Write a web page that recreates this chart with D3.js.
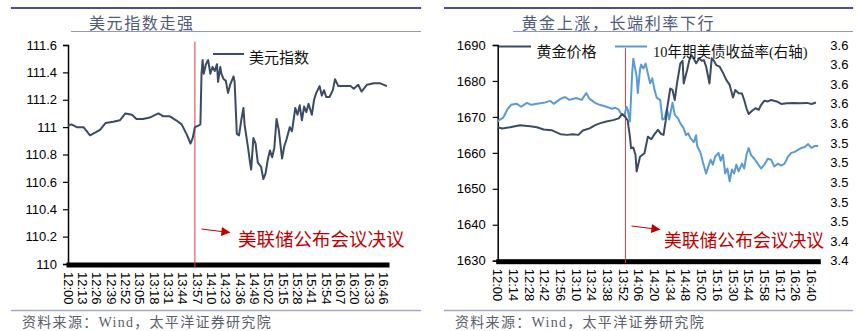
<!DOCTYPE html>
<html><head><meta charset="utf-8">
<script src="https://cdn.jsdelivr.net/npm/d3@7"></script>
<style>
html,body{margin:0;padding:0;background:#fff;}
svg{display:block;}
text{font-family:"Liberation Sans","Noto Sans CJK SC",sans-serif;}
</style></head><body>
<svg id="c" width="865" height="331"></svg>
<script>
// ---------- DATA ----------
const dxyTitle = "美元指数走强";
const goldTitle = "黄金上涨，长端利率下行";
const sourceText = "资料来源：Wind，太平洋证券研究院";
const annotText = "美联储公布会议决议";
const dxyName = "美元指数";
const goldName = "黄金价格";
const yieldName = "10年期美债收益率(右轴)";

const dxyTimes = ["12:00","12:03","12:08","12:14","12:20","12:29","12:34","12:41","12:47","12:52","12:58","13:02","13:08","13:14","13:22","13:26","13:32","13:38","13:43","13:48","13:51","13:53","13:55","13:58","14:00","14:01","14:02","14:03","14:05","14:07","14:09","14:11","14:13","14:15","14:16","14:18","14:19","14:21","14:23","14:25","14:27","14:30","14:31","14:33","14:35","14:37","14:39","14:40","14:43","14:45","14:46","14:48","14:50","14:52","14:55","14:57","14:59","15:01","15:03","15:05","15:07","15:09","15:11","15:14","15:16","15:18","15:21","15:23","15:26","15:28","15:30","15:32","15:34","15:36","15:38","15:41","15:43","15:45","15:48","15:50","15:52","15:54","15:57","16:00","16:02","16:05","16:10","16:16","16:19","16:23","16:26","16:31","16:37","16:43","16:49"];
const dxyValues = [111.01,111.02,111.00,111.00,110.94,110.98,111.03,111.04,111.05,111.10,111.09,111.06,111.06,111.07,111.10,111.08,111.08,111.05,111.02,110.94,110.88,110.92,111.00,111.01,111.02,111.39,111.49,111.39,111.46,111.49,111.39,111.44,111.41,111.46,111.33,111.44,111.39,111.35,111.34,111.25,111.31,111.37,111.33,110.95,110.94,111.05,111.14,111.02,110.86,110.74,110.69,110.92,110.88,110.74,110.71,110.62,110.66,110.76,110.83,110.78,110.85,111.06,110.98,110.77,110.86,110.91,111.00,110.97,111.14,111.09,111.16,111.05,111.15,111.11,111.17,111.09,111.20,111.25,111.30,111.23,111.27,111.22,111.22,111.27,111.35,111.30,111.30,111.30,111.28,111.31,111.26,111.31,111.32,111.32,111.30];

const goldTimes = ["12:00","12:04","12:11","12:20","12:29","12:35","12:41","12:48","12:56","13:02","13:07","13:12","13:16","13:22","13:27","13:31","13:37","13:43","13:48","13:51","13:54","13:56","13:58","13:59","14:01","14:03","14:04","14:07","14:09","14:11","14:14","14:17","14:20","14:23","14:26","14:28","14:30","14:31","14:34","14:36","14:38","14:40","14:43","14:45","14:46","14:49","14:51","14:53","14:55","14:57","15:00","15:02","15:04","15:06","15:09","15:11","15:13","15:15","15:18","15:21","15:24","15:27","15:30","15:32","15:35","15:38","15:40","15:42","15:44","15:47","15:50","15:53","15:55","15:58","16:01","16:04","16:09","16:13","16:18","16:24","16:30","16:36","16:40","16:44"];
const goldValues = [1667.1,1666.8,1667.1,1667.7,1667.4,1667.1,1666.5,1666.3,1665.2,1665.0,1665.2,1665.0,1666.2,1666.8,1667.7,1668.2,1668.7,1669.1,1669.6,1670.8,1669.9,1669.0,1664.5,1661.3,1661.5,1659.4,1654.8,1658.9,1659.4,1659.9,1664.5,1663.8,1665.2,1666.4,1665.2,1665.0,1669.1,1671.9,1677.9,1677.5,1674.7,1679.3,1684.9,1685.6,1679.3,1683.0,1685.8,1687.2,1686.3,1684.9,1686.3,1685.6,1685.8,1684.0,1679.3,1686.3,1685.6,1684.4,1684.0,1682.3,1680.3,1678.9,1675.4,1677.5,1676.6,1676.5,1674.7,1672.4,1670.8,1671.7,1672.4,1672.0,1673.3,1674.5,1674.3,1674.7,1674.3,1673.6,1673.8,1673.9,1673.8,1673.9,1673.6,1674.0];

const yieldTimes = ["12:00","12:02","12:05","12:09","12:12","12:17","12:21","12:26","12:30","12:35","12:41","12:47","12:50","12:56","13:00","13:04","13:10","13:15","13:19","13:22","13:27","13:31","13:37","13:42","13:45","13:48","13:50","13:53","13:55","13:56","13:58","14:00","14:01","14:02","14:04","14:05","14:07","14:08","14:10","14:12","14:14","14:16","14:18","14:20","14:22","14:25","14:27","14:29","14:31","14:33","14:36","14:38","14:41","14:43","14:46","14:48","14:50","14:52","14:55","14:57","14:58","15:01","15:03","15:06","15:08","15:10","15:12","15:14","15:17","15:19","15:21","15:23","15:25","15:27","15:29","15:31","15:33","15:35","15:38","15:40","15:42","15:44","15:46","15:49","15:52","15:55","15:58","16:01","16:04","16:07","16:10","16:13","16:16","16:19","16:22","16:25","16:28","16:31","16:34","16:37","16:40","16:43","16:46"];
const yieldValues = [3.562,3.564,3.566,3.575,3.579,3.580,3.577,3.581,3.579,3.580,3.581,3.583,3.580,3.585,3.587,3.584,3.586,3.584,3.591,3.585,3.581,3.579,3.577,3.575,3.576,3.574,3.570,3.568,3.577,3.574,3.562,3.611,3.626,3.620,3.608,3.591,3.615,3.620,3.616,3.621,3.611,3.601,3.606,3.594,3.586,3.584,3.564,3.565,3.575,3.564,3.581,3.569,3.565,3.560,3.555,3.548,3.550,3.545,3.541,3.548,3.537,3.530,3.521,3.509,3.516,3.523,3.518,3.526,3.530,3.522,3.528,3.509,3.514,3.501,3.513,3.509,3.518,3.511,3.519,3.514,3.528,3.535,3.528,3.524,3.519,3.514,3.518,3.524,3.523,3.516,3.519,3.517,3.519,3.526,3.530,3.531,3.533,3.535,3.536,3.539,3.535,3.537,3.537];

const dxyTicks = [110,110.2,110.4,110.6,110.8,111,111.2,111.4,111.6];
const goldTicks = [1630,1640,1650,1660,1670,1680,1690];
const yieldTicks = [3.42,3.44,3.46,3.48,3.50,3.52,3.54,3.56,3.58,3.60,3.62,3.64];
const dxyXLabels = ["12:00","12:13","12:26","12:39","12:52","13:05","13:18","13:31","13:44","13:57","14:10","14:23","14:36","14:49","15:02","15:15","15:28","15:41","15:54","16:07","16:20","16:33","16:46"];
const goldXLabels = ["12:00","12:14","12:28","12:42","12:56","13:10","13:24","13:38","13:52","14:06","14:20","14:34","14:48","15:02","15:16","15:30","15:44","15:58","16:12","16:26","16:40"];
const fedMarkLeft = "13:55";
const fedMarkRight = "13:54";

// ---------- HELPERS ----------
const toMin = t => { const [h,m] = t.split(":").map(Number); return (h-12)*60 + m; };
const svg = d3.select("#c");
const DARK = "#3b4b66", BLUE = "#5b9bd5", RED = "#e0393e", DRED = "#c00000";

svg.append("defs").append("marker").attr("id","arr")
  .attr("viewBox","0 0 10 10").attr("refX",9).attr("refY",5)
  .attr("markerWidth",10).attr("markerHeight",9).attr("markerUnits","userSpaceOnUse")
  .attr("orient","auto").append("path").attr("d","M0,0L10,5L0,10Z").attr("fill",DRED);

function frame(x0, x1, titleX, ulX, title) {
  svg.append("line").attr("x1",x0).attr("x2",x1).attr("y1",8).attr("y2",8)
    .attr("stroke","#4d4f8c").attr("stroke-width",2);
  svg.append("line").attr("x1",ulX).attr("x2",x1).attr("y1",31.5).attr("y2",31.5)
    .attr("stroke","#9496c4").attr("stroke-width",1);
  svg.append("text").attr("x",titleX).attr("y",29).text(title)
    .attr("font-size",16).attr("letter-spacing",1.6).attr("fill","#4f5b78")
    .style("font-family","'Noto Sans CJK SC',sans-serif");
  svg.append("line").attr("x1",x0).attr("x2",x1).attr("y1",310.5).attr("y2",310.5)
    .attr("stroke","#a4a6cc").attr("stroke-width",1.5);
  svg.append("text").attr("x",x0+11).attr("y",327).text(sourceText)
    .attr("font-size",14).attr("letter-spacing",1.3).attr("fill","#5a5e6a")
    .style("font-family","'Liberation Serif','Noto Sans CJK SC',serif");
}

function xAxis(x, labels, y0, domainMax) {
  const g = svg.append("g");
  g.append("rect").attr("x",x(0)-1.5).attr("width",x(domainMax)-x(0)+3)
    .attr("y",y0-1.5).attr("height",5).attr("fill","#000");
  g.selectAll("text.xl").data(labels).join("text").attr("class","xl")
    .attr("transform",d=>`translate(${x(toMin(d))},${y0+8}) rotate(90)`)
    .attr("dominant-baseline","central").attr("font-size",13).attr("fill","#000")
    .text(d=>d);
}

function annot(xs, ys) {
  svg.append("line").attr("x1",xs).attr("y1",ys).attr("x2",xs+28).attr("y2",ys+3.5)
    .attr("stroke",DRED).attr("stroke-width",1).attr("marker-end","url(#arr)");
}

// ---------- LEFT CHART ----------
frame(11, 421, 89, 71, dxyTitle);
const xL = d3.scaleLinear().domain([0,290]).range([68,388]);
const yL = d3.scaleLinear().domain([110,111.6]).range([264,45]);
const axL = d3.axisLeft(yL).tickValues(dxyTicks).tickSize(5).tickPadding(6)
  .tickFormat(d=>String(+d.toFixed(1)));
const gL = svg.append("g").attr("transform","translate(68,0)").call(axL);
gL.select(".domain").attr("stroke","#000").attr("stroke-width",1.5);
gL.selectAll(".tick line").attr("stroke","#000").attr("stroke-width",1.2);
gL.selectAll(".tick text").attr("font-size",13).attr("fill","#000")
  .style("font-family","'Liberation Sans',sans-serif");
xAxis(xL, dxyXLabels, 264, 290);
svg.append("line").attr("x1",xL(toMin(fedMarkLeft))).attr("x2",xL(toMin(fedMarkLeft)))
  .attr("y1",41.5).attr("y2",267).attr("stroke",RED).attr("stroke-width",1);
svg.append("path").datum(dxyTimes.map((t,i)=>[toMin(t),dxyValues[i]]))
  .attr("d",d3.line().x(d=>xL(d[0])).y(d=>yL(d[1])))
  .attr("fill","none").attr("stroke",DARK).attr("stroke-width",2).attr("stroke-linejoin","round");
svg.append("line").attr("x1",213).attr("x2",244).attr("y1",54).attr("y2",54)
  .attr("stroke",DARK).attr("stroke-width",2);
svg.append("text").attr("x",249).attr("y",63).text(dxyName).attr("font-size",15).attr("fill","#111");
annot(201.5, 229);
svg.append("text").attr("x",238).attr("y",246).text(annotText)
  .attr("font-size",18.5).attr("fill",DRED);

// ---------- RIGHT CHART ----------
frame(444, 853, 521.5, 513, goldTitle);
const xR = d3.scaleLinear().domain([0,287]).range([497.7,819.3]);
const yG = d3.scaleLinear().domain([1630,1690]).range([260.7,45]);
const yY = d3.scaleLinear().domain([3.42,3.64]).range([260.7,45]);
const axG = d3.axisLeft(yG).tickValues(goldTicks).tickSize(5).tickPadding(7)
  .tickFormat(d3.format("d"));
const gG = svg.append("g").attr("transform","translate(497.7,0)").call(axG);
gG.select(".domain").attr("stroke","#000").attr("stroke-width",1.5);
gG.selectAll(".tick line").attr("stroke","#000").attr("stroke-width",1.2);
gG.selectAll(".tick text").attr("font-size",13).attr("fill","#000")
  .style("font-family","'Liberation Sans',sans-serif");
const axY = d3.axisRight(yY).tickValues(yieldTicks).tickSize(0).tickPadding(11)
  .tickFormat(d3.format(".1f"));
const gY = svg.append("g").attr("transform","translate(819.3,0)").call(axY);
gY.select(".domain").remove();
gY.selectAll(".tick text").attr("font-size",13).attr("fill","#000")
  .style("font-family","'Liberation Sans',sans-serif");
xAxis(xR, goldXLabels, 260.7, 287);
svg.append("line").attr("x1",xR(toMin(fedMarkRight))).attr("x2",xR(toMin(fedMarkRight)))
  .attr("y1",48).attr("y2",263).attr("stroke",RED).attr("stroke-width",1);
svg.append("path").datum(yieldTimes.map((t,i)=>[toMin(t),yieldValues[i]]))
  .attr("d",d3.line().x(d=>xR(d[0])).y(d=>yY(d[1])))
  .attr("fill","none").attr("stroke",BLUE).attr("stroke-width",2).attr("stroke-linejoin","round");
svg.append("path").datum(goldTimes.map((t,i)=>[toMin(t),goldValues[i]]))
  .attr("d",d3.line().x(d=>xR(d[0])).y(d=>yG(d[1])))
  .attr("fill","none").attr("stroke",DARK).attr("stroke-width",2).attr("stroke-linejoin","round");
svg.append("line").attr("x1",499).attr("x2",531).attr("y1",46.5).attr("y2",46.5)
  .attr("stroke",DARK).attr("stroke-width",2);
svg.append("text").attr("x",536.5).attr("y",57).text(goldName).attr("font-size",15).attr("fill","#111");
svg.append("line").attr("x1",615).attr("x2",647).attr("y1",46.5).attr("y2",46.5)
  .attr("stroke",BLUE).attr("stroke-width",2);
svg.append("text").attr("x",653).attr("y",57).text(yieldName).attr("font-size",14.5).attr("fill","#111")
  .style("font-family","'Liberation Serif','Noto Sans CJK SC',serif");
annot(631.5, 226);
svg.append("text").attr("x",664).attr("y",247).text(annotText)
  .attr("font-size",17.8).attr("fill",DRED);
</script>
</body></html>
